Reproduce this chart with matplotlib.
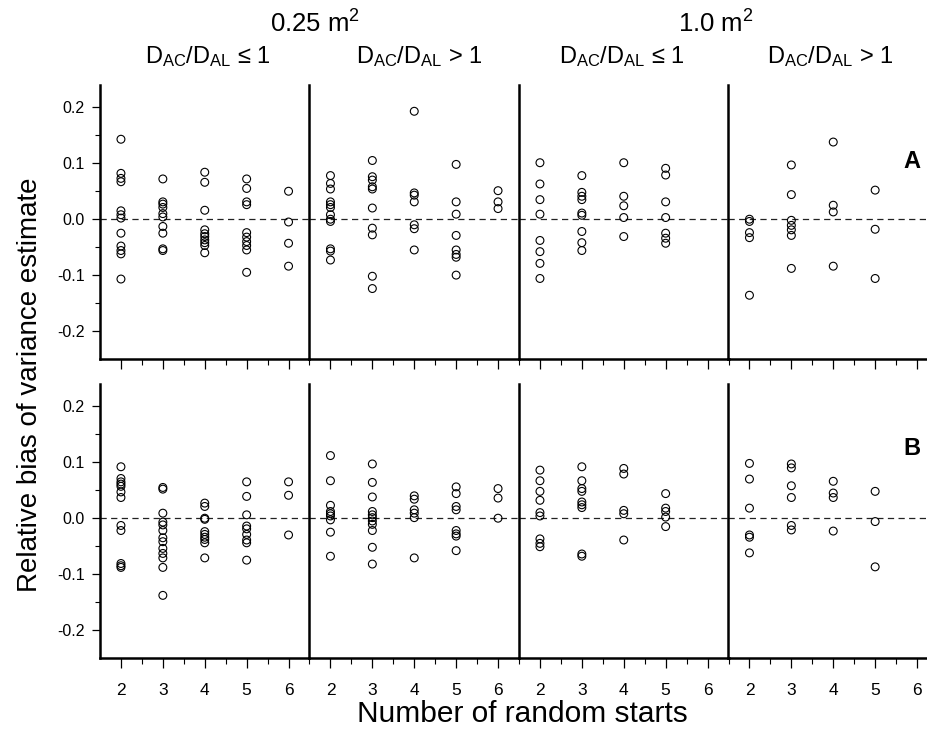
import matplotlib
matplotlib.use("Agg")
import matplotlib.pyplot as plt
from matplotlib.ticker import FixedLocator

plt.rcParams['font.family'] = ['Liberation Sans', 'DejaVu Sans']
plt.rcParams['mathtext.fontset'] = 'custom'
plt.rcParams['mathtext.rm'] = 'Liberation Sans'
plt.rcParams['mathtext.it'] = 'Liberation Sans:italic'

# ---------------- data ----------------
starts = [2, 3, 4, 5, 6]
tick_labels = ["2", "3", "4", "5", "6"]
area_labels = ["0.25 m$^2$", "1.0 m$^2$"]
group_labels = ["D$_\\mathregular{AC}$/D$_\\mathregular{AL}$ \u2264 1",
                "D$_\\mathregular{AC}$/D$_\\mathregular{AL}$ > 1",
                "D$_\\mathregular{AC}$/D$_\\mathregular{AL}$ \u2264 1",
                "D$_\\mathregular{AC}$/D$_\\mathregular{AL}$ > 1"]
panel_letters = ["A", "B"]

# Panel A (one list per number of random starts 2..6)
A_025_le1 = [
    [0.143, 0.082, 0.073, 0.067, 0.015, 0.008, 0.002, -0.025, -0.048, -0.056, -0.062, -0.107],
    [0.072, 0.031, 0.027, 0.021, 0.010, 0.004, -0.013, -0.025, -0.053, -0.056],
    [0.084, 0.066, 0.016, -0.019, -0.026, -0.031, -0.037, -0.042, -0.047, -0.060],
    [0.072, 0.055, 0.031, 0.026, -0.024, -0.032, -0.040, -0.047, -0.055, -0.095],
    [0.050, -0.005, -0.043, -0.084],
]
A_025_gt1 = [
    [0.078, 0.064, 0.054, 0.031, 0.026, 0.021, 0.008, 0.000, -0.004, -0.053, -0.057, -0.073],
    [0.105, 0.076, 0.070, 0.058, 0.054, 0.020, -0.016, -0.028, -0.102, -0.124],
    [0.193, 0.047, 0.043, 0.031, -0.010, -0.017, -0.055],
    [0.098, 0.031, 0.009, -0.029, -0.055, -0.063, -0.068, -0.100],
    [0.051, 0.031, 0.019],
]
A_100_le1 = [
    [0.101, 0.063, 0.035, 0.009, -0.038, -0.058, -0.079, -0.106],
    [0.078, 0.048, 0.041, 0.035, 0.011, 0.007, -0.022, -0.042, -0.056],
    [0.101, 0.041, 0.024, 0.003, -0.031],
    [0.091, 0.079, 0.031, 0.003, -0.025, -0.034, -0.043],
    [],
]
A_100_gt1 = [
    [0.000, -0.004, -0.024, -0.033, -0.136],
    [0.097, 0.044, -0.002, -0.011, -0.019, -0.029, -0.088],
    [0.138, 0.025, 0.013, -0.084],
    [0.052, -0.018, -0.106],
    [],
]

# Panel B
B_025_le1 = [
    [0.092, 0.071, 0.065, 0.061, 0.057, 0.047, 0.037, -0.013, -0.022, -0.081, -0.085, -0.088],
    [0.055, 0.052, 0.009, -0.007, -0.012, -0.022, -0.035, -0.042, -0.054, -0.063, -0.071, -0.088, -0.138],
    [0.027, 0.021, 0.000, -0.002, -0.024, -0.029, -0.034, -0.038, -0.044, -0.071],
    [0.065, 0.039, 0.006, -0.014, -0.019, -0.029, -0.039, -0.044, -0.075],
    [0.065, 0.041, -0.030],
]
B_025_gt1 = [
    [0.112, 0.067, 0.023, 0.012, 0.008, 0.004, -0.003, -0.025, -0.068],
    [0.097, 0.064, 0.038, 0.012, 0.006, 0.001, -0.005, -0.011, -0.022, -0.052, -0.082],
    [0.040, 0.034, 0.015, 0.009, 0.001, -0.071],
    [0.056, 0.044, 0.021, 0.015, -0.022, -0.028, -0.032, -0.058],
    [0.053, 0.036, 0.000],
]
B_100_le1 = [
    [0.086, 0.067, 0.048, 0.032, 0.010, 0.004, -0.037, -0.045, -0.051],
    [0.092, 0.067, 0.053, 0.048, 0.029, 0.024, 0.019, -0.064, -0.068],
    [0.089, 0.079, 0.014, 0.008, -0.039],
    [0.044, 0.018, 0.012, 0.002, -0.015],
    [],
]
B_100_gt1 = [
    [0.098, 0.070, 0.018, -0.030, -0.034, -0.062],
    [0.097, 0.090, 0.058, 0.037, -0.013, -0.021],
    [0.066, 0.045, 0.037, -0.023],
    [0.048, -0.006, -0.087],
    [],
]

panels = [[A_025_le1, A_025_gt1, A_100_le1, A_100_gt1],
          [B_025_le1, B_025_gt1, B_100_le1, B_100_gt1]]

# ---------------- layout ----------------
W, H = 928, 732
fig = plt.figure(figsize=(W / 100, H / 100), dpi=100)

x0 = 100.0
gw = 209.5
panel_tops = [85, 384]
ph = 274.0
ylim = (-0.25, 0.24)

for pi, groups in enumerate(panels):
    top = panel_tops[pi]
    for gi, grp in enumerate(groups):
        left = x0 + gi * gw
        ax = fig.add_axes([left / W, 1 - (top + ph) / H, gw / W, ph / H])
        ax.set_xlim(1.5, 6.5)
        ax.set_ylim(*ylim)
        ax.patch.set_alpha(0)
        for s in ['top', 'right']:
            ax.spines[s].set_visible(False)
        ax.spines['left'].set_linewidth(1.8)
        ax.spines['bottom'].set_linewidth(1.8)
        ax.axhline(0, color='#222222', lw=0.9, ls=(0, (5, 3.5)), zorder=1)
        for s, vals in zip(starts, grp):
            if len(vals):
                ax.scatter([s] * len(vals), vals, s=32, facecolors='none',
                           edgecolors='black', linewidths=0.8, zorder=3)
        ax.xaxis.set_major_locator(FixedLocator(starts))
        ax.xaxis.set_minor_locator(FixedLocator([2.5, 3.5, 4.5, 5.5, 6.5]))
        ax.tick_params(axis='x', which='major', direction='out', length=7, width=0.9,
                       labelsize=12.5, pad=11)
        ax.tick_params(axis='x', which='minor', direction='out', length=4, width=0.8)
        if pi == 1:
            ax.set_xticklabels(tick_labels)
        else:
            ax.set_xticklabels([])
        if gi == 0:
            ax.yaxis.set_major_locator(FixedLocator([-0.2, -0.1, 0.0, 0.1, 0.2]))
            ax.yaxis.set_minor_locator(FixedLocator([-0.15, -0.05, 0.05, 0.15]))
            ax.set_yticklabels(["-0.2", "-0.1", "0.0", "0.1", "0.2"])
            ax.tick_params(axis='y', which='major', direction='out', length=6, width=0.9,
                           labelsize=11.5, pad=5)
            ax.tick_params(axis='y', which='minor', direction='out', length=3.5, width=0.8)
        else:
            ax.set_yticks([])
        if gi == 3:
            ax.text(5.88, [0.104, 0.125][pi], panel_letters[pi], fontsize=17,
                    fontweight='bold', ha='center', va='center')

# headers
fig.text(315 / W, 1 - 33 / H, area_labels[0], ha='center', va='baseline', fontsize=18.5)
fig.text(716 / W, 1 - 33 / H, area_labels[1], ha='center', va='baseline', fontsize=18.5)
for xc, lab in zip([208, 419, 622, 830], group_labels):
    fig.text(xc / W, 1 - 63 / H, lab, ha='center', va='baseline', fontsize=17)

fig.text(30 / W, 1 - 385 / H, "Relative bias of variance estimate", rotation=90,
         ha='center', va='center', fontsize=20)
fig.text(522 / W, 1 - 722 / H, "Number of random starts", ha='center', va='baseline',
         fontsize=21.5)

fig.savefig("out.png", dpi=100)
